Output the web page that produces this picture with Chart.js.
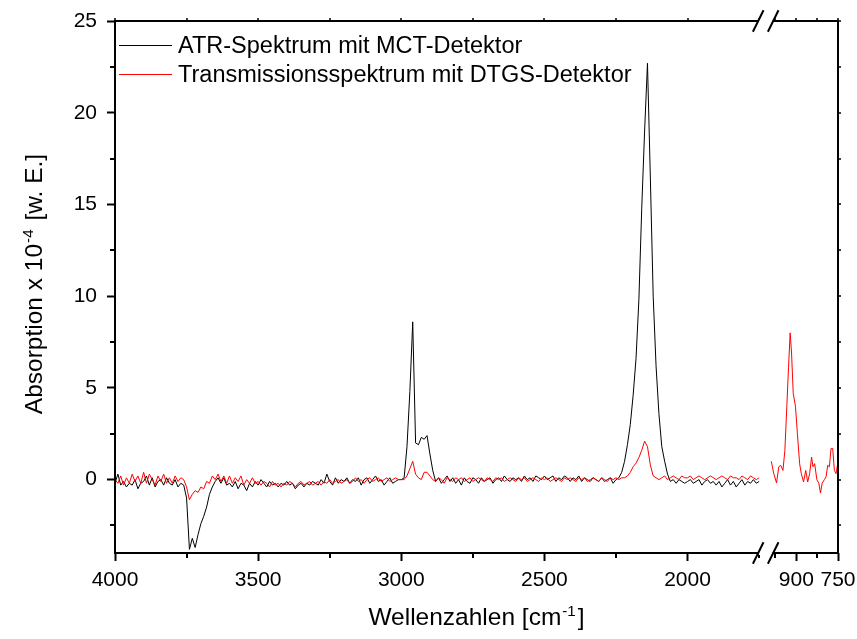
<!DOCTYPE html>
<html>
<head>
<meta charset="utf-8">
<script src="https://cdn.jsdelivr.net/npm/chart.js@4.4.1/dist/chart.umd.min.js"></script>
<style>
  html, body { margin: 0; padding: 0; background: #fff; }
  #chart { display: block; }
</style>
</head>
<body>
<canvas id="chart" width="857" height="639"></canvas>
<script>
// Spectra data (wavenumbers in cm^-1, absorption x 10^-4)
const wavenumbersLeft = [
  4000, 3990, 3980, 3970, 3960, 3950, 3940, 3930, 3920, 3910,
  3900, 3890, 3880, 3870, 3860, 3850, 3840, 3830, 3820, 3810,
  3800, 3790, 3780, 3770, 3760, 3750, 3740, 3730, 3720, 3710,
  3700, 3690, 3680, 3670, 3660, 3650, 3640, 3630, 3620, 3610,
  3600, 3590, 3580, 3570, 3560, 3550, 3540, 3530, 3520, 3510,
  3500, 3490, 3480, 3470, 3460, 3450, 3440, 3430, 3420, 3410,
  3400, 3390, 3380, 3370, 3360, 3350, 3340, 3330, 3320, 3310,
  3300, 3290, 3280, 3270, 3260, 3250, 3240, 3230, 3220, 3210,
  3200, 3190, 3180, 3170, 3160, 3150, 3140, 3130, 3120, 3110,
  3100, 3090, 3080, 3070, 3060, 3050, 3040, 3030, 3020, 3010,
  3000, 2990, 2980, 2970, 2960, 2950, 2940, 2930, 2920, 2910,
  2900, 2890, 2880, 2870, 2860, 2850, 2840, 2830, 2820, 2810,
  2800, 2790, 2780, 2770, 2760, 2750, 2740, 2730, 2720, 2710,
  2700, 2690, 2680, 2670, 2660, 2650, 2640, 2630, 2620, 2610,
  2600, 2590, 2580, 2570, 2560, 2550, 2540, 2530, 2520, 2510,
  2500, 2490, 2480, 2470, 2460, 2450, 2440, 2430, 2420, 2410,
  2400, 2390, 2380, 2370, 2360, 2350, 2340, 2330, 2320, 2310,
  2300, 2290, 2280, 2270, 2260, 2250, 2240, 2230, 2220, 2210,
  2200, 2190, 2180, 2170, 2160, 2150, 2140, 2130, 2120, 2110,
  2100, 2090, 2080, 2070, 2060, 2050, 2040, 2030, 2020, 2010,
  2000, 1990, 1980, 1970, 1960, 1950, 1940, 1930, 1920, 1910,
  1900, 1890, 1880, 1870, 1860, 1850, 1840, 1830, 1820, 1810,
  1800, 1790, 1780, 1770, 1760, 1750
];

const atrLeft = [
  -0.2, 0.3, -0.3, -0.1, -0.4, -0.2, -0.3, 0.0, -0.5, -0.2,
  -0.1, 0.2, -0.3, 0.1, -0.4, -0.1, 0.0, -0.3, 0.1, -0.2,
  -0.3, 0.0, -0.4, -0.2, -0.3, -1.0, -3.8, -3.2, -3.7, -3.0,
  -2.4, -2.0, -1.5, -0.8, -0.4, -0.1, 0.1, -0.2, 0.1, -0.3,
  -0.2, -0.4, -0.1, -0.5, -0.2, -0.3, -0.6, -0.2, -0.4, -0.1,
  -0.3, 0.0, -0.2, -0.4, -0.1, -0.3, -0.2, -0.4, -0.2, -0.3,
  -0.1, -0.3, -0.2, -0.5, -0.3, -0.2, -0.4, -0.2, -0.3, -0.1,
  -0.2, -0.3, 0.0, -0.2, 0.3, -0.1, -0.3, 0.1, -0.2, 0.0,
  -0.1, 0.1, -0.2, 0.0, -0.1, 0.1, -0.3, 0.0, 0.1, -0.2,
  0.0, 0.2, -0.1, 0.0, -0.3, -0.1, 0.1, -0.2, -0.1, 0.0,
  0.0, 0.1, 1.8, 4.8, 8.6, 2.0, 1.9, 2.3, 2.2, 2.4,
  1.4, 0.5, -0.1, 0.1, -0.2, 0.0, 0.2, -0.1, 0.1, -0.2,
  0.0, -0.3, 0.1, -0.1, -0.2, 0.1, 0.0, -0.2, 0.1, -0.1,
  0.0, 0.1, -0.2, 0.0, 0.1, -0.1, 0.2, 0.0, -0.1, 0.1,
  0.0, 0.1, -0.1, 0.2, 0.0, 0.1, -0.1, 0.2, 0.1, 0.0,
  0.2, 0.0, 0.1, 0.2, -0.1, 0.1, 0.0, 0.2, 0.1, -0.1,
  0.1, 0.0, 0.2, -0.1, 0.1, 0.0, -0.1, 0.1, 0.0, -0.1,
  0.1, -0.1, 0.0, 0.1, -0.2, 0.0, 0.1, 0.4, 1.0, 1.9,
  3.0, 4.6, 6.6, 9.8, 14.8, 19.0, 22.7, 16.5, 10.0, 6.2,
  3.6, 1.8, 1.0, 0.3, -0.1, 0.0, -0.2, 0.0, -0.1, -0.2,
  -0.1, 0.0, -0.2, -0.1, 0.0, -0.3, -0.1, 0.0, -0.2, -0.1,
  -0.3, -0.1, -0.4, -0.2, 0.0, -0.3, -0.1, -0.4, -0.2, 0.0,
  -0.3, -0.1, -0.2, 0.0, -0.2, -0.1
];

const transLeft = [
  0.0, -0.2, 0.2, -0.3, 0.1, -0.2, 0.3, -0.1, 0.2, -0.2,
  0.4, -0.2, 0.3, 0.0, -0.3, 0.2, -0.1, 0.3, -0.2, 0.1,
  -0.2, 0.2, -0.1, 0.1, 0.0, -0.4, -1.1, -0.8, -0.6, -0.7,
  -0.4, -0.5, -0.1, -0.2, 0.2, 0.0, 0.3, -0.1, 0.2, -0.2,
  0.2, -0.2, 0.1, -0.1, 0.2, -0.3, 0.0, -0.2, 0.1, -0.2,
  -0.1, -0.3, -0.1, -0.2, -0.4, -0.1, -0.3, -0.2, -0.4, -0.2,
  -0.3, -0.1, -0.2, -0.4, -0.2, -0.1, -0.3, -0.2, -0.1, -0.3,
  -0.2, -0.1, -0.3, -0.1, -0.2, 0.0, -0.2, -0.1, 0.0, -0.2,
  -0.1, 0.0, -0.2, -0.1, 0.1, -0.1, 0.0, -0.2, 0.0, 0.1,
  -0.1, 0.0, 0.1, -0.1, 0.0, 0.1, -0.1, 0.0, 0.1, 0.0,
  0.0, 0.0, 0.2, 0.6, 1.0, 0.3, 0.1, 0.0, 0.4, 0.4,
  0.2, 0.0, -0.1, 0.1, 0.0, -0.2, 0.1, 0.0, -0.1, 0.1,
  0.0, 0.1, -0.1, 0.0, 0.1, -0.1, 0.0, 0.1, 0.0, -0.1,
  0.1, 0.0, -0.1, 0.1, 0.0, 0.1, -0.1, 0.0, 0.1, 0.0,
  -0.1, 0.1, 0.0, 0.1, -0.1, 0.0, 0.1, 0.0, -0.1, 0.1,
  0.0, 0.1, -0.1, 0.0, 0.1, 0.0, -0.1, 0.1, 0.0, 0.1,
  0.0, -0.1, 0.1, 0.0, 0.1, -0.1, 0.0, 0.1, 0.0, -0.1,
  0.1, 0.0, -0.1, 0.1, 0.0, 0.1, 0.0, 0.1, 0.1, 0.2,
  0.4, 0.7, 0.9, 1.2, 1.6, 2.1, 1.8, 0.8, 0.2, 0.1,
  0.0, 0.1, 0.2, 0.0, 0.1, 0.2, 0.1, 0.0, 0.2, 0.1,
  0.1, 0.2, 0.0, 0.1, 0.2, 0.1, 0.0, 0.1, 0.2, 0.1,
  0.0, 0.1, 0.2, 0.1, 0.0, 0.2, 0.1, 0.1, 0.0, 0.2,
  0.1, 0.0, 0.2, 0.1, 0.0, 0.1
];

const wavenumbersRight = [
  990, 981, 971, 963, 956, 948, 941, 934, 928, 922,
  917, 911, 903, 896, 888, 882, 874, 866, 859, 852,
  845, 840, 834, 826, 819, 813, 807, 799, 793, 787,
  781, 775, 769, 763, 757, 751
];

const transRight = [
  1.0, 0.33, -0.18, 0.7, 0.78, 0.5, 1.6, 4.0, 6.1, 8.0,
  6.9, 4.7, 4.0, 2.5, 0.87, 0.33, -0.13, 0.5, -0.13, 0.33,
  1.23, 0.7, 0.87, 0.0, -0.2, -0.73, -0.2, 0.0, 0.15, 0.78,
  0.7, 1.7, 1.7, 0.5, 0.33, 0.87
];

const seriesLabels = ["ATR-Spektrum mit MCT-Detektor", "Transmissionsspektrum mit DTGS-Detektor"];
const seriesColors = ["#000000", "#ff0000"];

// tick labels and minor tick positions
const xLeftTicks = [4000, 3500, 3000, 2500, 2000];
const xLeftMinor = [3750, 3250, 2750, 2250, 1750];
const xRightTicks = [900, 750];
const xRightMinor = [975, 825];
const yTicks = [0, 5, 10, 15, 20, 25];
const yMinor = [-2.5, 2.5, 7.5, 12.5, 17.5, 22.5];

const xTitleParts = ["Wellenzahlen [cm", "-1", "]"];
const yTitleParts = ["Absorption x 10", "-4", " [w. E.]"];

const FONT = '"Liberation Sans", Arial, sans-serif';
Chart.defaults.font.family = FONT;
Chart.defaults.color = "#000";

const toPoints = (xs, ys) => xs.map((x, i) => ({ x: x, y: ys[i] }));
const fixedTicks = (values) => (s) => { s.ticks = values.map((v) => ({ value: v })); };

// axis frame, minor ticks, axis break, titles and legend
const decorations = {
  id: "decorations",
  afterDraw(chart) {
    const { ctx, chartArea: a, scales } = chart;
    const xl = scales.xLeft, xr = scales.xRight, y = scales.y;
    ctx.save();
    ctx.strokeStyle = "#000";
    ctx.lineWidth = 2;

    // frame
    ctx.strokeRect(a.left, a.top, a.right - a.left, a.bottom - a.top);

    // minor ticks (outward)
    ctx.beginPath();
    xLeftMinor.forEach((v) => {
      const px = Math.round(xl.getPixelForValue(v));
      ctx.moveTo(px, a.bottom); ctx.lineTo(px, a.bottom + 5);
    });
    xRightMinor.forEach((v) => {
      const px = Math.round(xr.getPixelForValue(v));
      ctx.moveTo(px, a.bottom); ctx.lineTo(px, a.bottom + 5);
    });
    yMinor.forEach((v) => {
      const py = Math.round(y.getPixelForValue(v));
      ctx.moveTo(a.left, py); ctx.lineTo(a.left - 5, py);
    });
    ctx.stroke();

    // small mirrored ticks on top and right
    ctx.lineWidth = 1.5;
    ctx.beginPath();
    yTicks.concat(yMinor).forEach((v) => {
      const py = Math.round(y.getPixelForValue(v));
      ctx.moveTo(a.right, py); ctx.lineTo(a.right + 3, py);
    });
    xLeftTicks.concat(xLeftMinor).forEach((v) => {
      const px = Math.round(xl.getPixelForValue(v));
      ctx.moveTo(px, a.top); ctx.lineTo(px, a.top - 3);
    });
    xRightTicks.concat(xRightMinor).forEach((v) => {
      const px = Math.round(xr.getPixelForValue(v));
      ctx.moveTo(px, a.top); ctx.lineTo(px, a.top - 3);
    });
    ctx.stroke();

    // axis break marks
    const bx = xr.left;
    [a.top, a.bottom].forEach((by) => {
      ctx.fillStyle = "#fff";
      ctx.fillRect(bx - 7, by - 2, 14, 4);
      ctx.strokeStyle = "#000";
      ctx.lineWidth = 2;
      ctx.beginPath();
      [bx - 7.5, bx + 7.5].forEach((cx) => {
        ctx.moveTo(cx - 5.3, by + 10.8);
        ctx.lineTo(cx + 5.3, by - 10.8);
      });
      ctx.stroke();
    });

    // legend
    ctx.lineWidth = 1;
    ctx.font = "23.5px " + FONT;
    ctx.textAlign = "left";
    ctx.textBaseline = "alphabetic";
    [0, 1].forEach((i) => {
      const ly = a.top + 24 + i * 29;
      ctx.strokeStyle = chart.data.datasets[i].borderColor;
      ctx.beginPath();
      ctx.moveTo(a.left + 4, ly + 0.5);
      ctx.lineTo(a.left + 57, ly + 0.5);
      ctx.stroke();
      ctx.fillStyle = "#000";
      ctx.fillText(chart.data.datasets[i].label, a.left + 63, ly + 8.4);
    });

    // axis titles with superscripts
    const drawSup = (parts, cx, baseY, size) => {
      const mainFont = size + "px " + FONT;
      const supFont = (size * 0.62).toFixed(1) + "px " + FONT;
      ctx.font = mainFont;
      const w0 = ctx.measureText(parts[0]).width;
      const w2 = ctx.measureText(parts[2]).width;
      ctx.font = supFont;
      const w1 = ctx.measureText(parts[1]).width;
      let x = cx - (w0 + w1 + w2 + 3) / 2;
      ctx.font = mainFont;
      ctx.fillText(parts[0], x, baseY);
      x += w0 + 1;
      ctx.font = supFont;
      ctx.fillText(parts[1], x, baseY - size * 0.36);
      x += w1 + 2;
      ctx.font = mainFont;
      ctx.fillText(parts[2], x, baseY);
    };
    ctx.fillStyle = "#000";
    drawSup(xTitleParts, (a.left + a.right) / 2, 625, 24.5);

    ctx.save();
    ctx.translate(42, (a.top + a.bottom) / 2 - 3);
    ctx.rotate(-Math.PI / 2);
    drawSup(yTitleParts, 0, 0, 24.5);
    ctx.restore();

    ctx.restore();
  }
};

const tickFont = { size: 21 };
const tickGrid = { drawOnChartArea: false, drawTicks: true, tickLength: 8, tickWidth: 2, tickColor: "#000" };
const noPadX = (s) => { s.height = 86; s.paddingLeft = 0; s.paddingRight = 0; };

new Chart(document.getElementById("chart"), {
  type: "line",
  data: {
    datasets: [
      {
        label: seriesLabels[0],
        data: toPoints(wavenumbersLeft, atrLeft),
        xAxisID: "xLeft",
        borderColor: seriesColors[0],
        borderWidth: 1,
        pointRadius: 0,
        order: 1,
      },
      {
        label: seriesLabels[1],
        data: toPoints(wavenumbersLeft, transLeft),
        xAxisID: "xLeft",
        borderColor: seriesColors[1],
        borderWidth: 1,
        pointRadius: 0,
        order: 0,
      },
      {
        label: seriesLabels[1],
        data: toPoints(wavenumbersRight, transRight),
        xAxisID: "xRight",
        borderColor: seriesColors[1],
        borderWidth: 1,
        pointRadius: 0,
        order: 0,
      },
    ],
  },
  options: {
    responsive: false,
    animation: false,
    events: [],
    layout: { padding: { left: 0, right: 19, top: 21, bottom: 0 } },
    plugins: {
      legend: { display: false },
      tooltip: { enabled: false },
    },
    scales: {
      xLeft: {
        type: "linear",
        position: "bottom",
        stack: "wn",
        stackWeight: 9,
        reverse: true,
        min: 1727,
        max: 4000,
        border: { display: false },
        grid: tickGrid,
        ticks: { autoSkip: false, maxRotation: 0, padding: 7, font: tickFont, callback: (v) => String(v) },
        afterBuildTicks: fixedTicks(xLeftTicks),
        afterFit: noPadX,
      },
      xRight: {
        type: "linear",
        position: "bottom",
        stack: "wn",
        stackWeight: 1,
        reverse: true,
        min: 750,
        max: 1010,
        border: { display: false },
        grid: tickGrid,
        ticks: { autoSkip: false, maxRotation: 0, padding: 7, font: tickFont, callback: (v) => String(v) },
        afterBuildTicks: fixedTicks(xRightTicks),
        afterFit: noPadX,
      },
      y: {
        type: "linear",
        position: "left",
        min: -4,
        max: 25,
        border: { display: false },
        grid: tickGrid,
        ticks: { padding: 10, font: tickFont, callback: (v) => String(v) },
        afterBuildTicks: fixedTicks(yTicks),
        afterFit: (s) => { s.width = 115; s.paddingTop = 0; s.paddingBottom = 0; },
      },
    },
  },
  plugins: [decorations],
});
</script>
</body>
</html>
